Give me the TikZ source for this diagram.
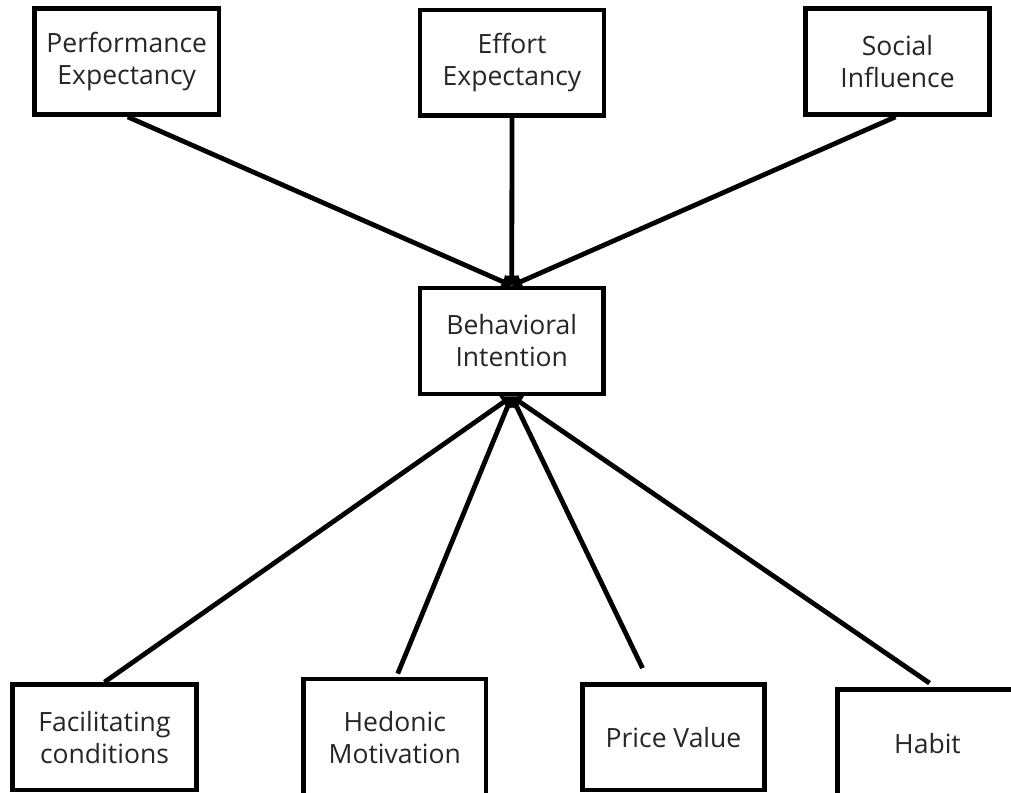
\documentclass[tikz,border=0pt]{standalone}
\usepackage{fontspec}
\setmainfont{Open Sans}
\usetikzlibrary{arrows.meta}
\begin{document}
\begin{tikzpicture}[x=1pt,y=-1pt,
  box/.style={draw=black, line width=4.8pt, fill=white, align=center,
    text=black!85, font=\fontsize{26.5}{32}\selectfont, inner sep=0pt},
  link/.style={line width=4.8pt, -{Triangle[length=10pt,width=14pt]}}]
\useasboundingbox (0,0) rectangle (1011,792);
\clip (0,0) rectangle (1011,792);

% determinants in the top row
\node[box, minimum width=184.5pt, minimum height=106pt] (pe) at (126.75,61.5) {Performance\\Expectancy};
\node[box, minimum width=184pt, minimum height=105.5pt] (ee) at (512,62.75) {Effort\\Expectancy};
\node[box, minimum width=184pt, minimum height=106pt] (si) at (897.5,61.5) {Social\\Influence};

% central construct
\node[box, minimum width=183.5pt, minimum height=106pt] (bi) at (511.75,341) {Behavioral\\Intention};

% determinants in the bottom row
\node[box, minimum width=184pt, minimum height=105.5pt] (fc) at (104.5,737.25) {Facilitating\\conditions};
\node[box, minimum width=182.5pt, minimum height=118pt] (hm) at (394.75,738) {Hedonic\\Motivation};
\node[box, minimum width=182pt, minimum height=105.5pt] (pv) at (673.5,737.25) {Price Value};
\node[box, minimum width=180pt, minimum height=108pt, text depth=0pt] (ha) at (927.5,743.5) {Habit};

% loose upper end of the price value link
\coordinate (pvtop) at ([shift={(-31,-14)}]pv.north);

% arrows into behavioral intention
\draw[link] ([xshift=1pt]pe.south) -- (bi.north);
\draw[link] (ee.south) -- (bi.north);
\draw[link] ([xshift=-2pt]si.south) -- (bi.north);
\draw[link] (fc.north) -- (bi.south);
\draw[link] ([shift={(3,-3)}]hm.north) -- (bi.south);
\draw[link] (pvtop) -- (bi.south);
\draw[link] ([shift={(2,-4)}]ha.north) -- (bi.south);
\end{tikzpicture}
\end{document}
